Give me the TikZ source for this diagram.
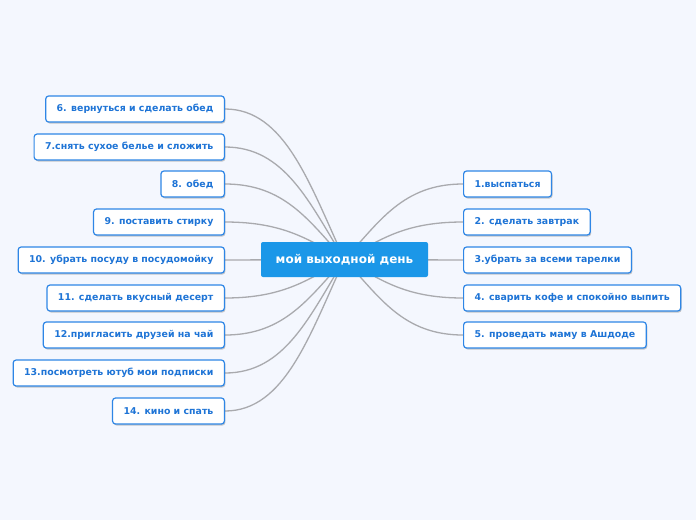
\documentclass[tikz,border=0pt]{standalone}
\usepackage{fontspec}
\setmainfont{DejaVu Sans}
\usetikzlibrary{calc,shadows,backgrounds}

\definecolor{paper}{HTML}{F4F7FE}
\definecolor{leafblue}{HTML}{1E74D6}
\definecolor{edgeblue}{HTML}{2E86E6}
\definecolor{rootblue}{HTML}{1B97E8}
\definecolor{linkgray}{HTML}{A9AAAE}

\tikzset{
    leaf/.style={draw=edgeblue, line width=1.2pt, fill=white, rounded corners=3pt,
        text=leafblue, font=\fontsize{9.4}{10}\selectfont\bfseries,
        minimum height=26pt, inner xsep=11pt, inner ysep=2pt,
        drop shadow={shadow xshift=1pt, shadow yshift=-1.5pt, opacity=0.35, fill=black!60}},
    root/.style={fill=rootblue, rounded corners=2pt, text=white,
        font=\fontsize{12}{14}\selectfont\bfseries,
        minimum height=35pt, minimum width=167pt, inner xsep=14pt},
    link/.style={draw=linkgray, line width=1.3pt}
}

\begin{document}
\begin{tikzpicture}[x=1pt, y=-1pt]
    \useasboundingbox (0,0) rectangle (696,520);

    \node[root] (root) at (344.5,259.5) {мой выходной день};

    % right branch
    \foreach \n/\y/\t in {1/184/1.выспаться, 2/222/2. сделать завтрак,
        3/260/3.убрать за всеми тарелки, 4/298/4. сварить кофе и спокойно выпить,
        5/335/5. проведать маму в Ашдоде}
    {
        \node[leaf, anchor=west] (r\n) at (463,\y) {\t};
    }

    % left branch
    \foreach \n/\y/\t in {6/109/6. вернуться и сделать обед, 7/147/7.снять сухое белье и сложить,
        8/184/8. обед, 9/222/9. поставить стирку, 10/260/10. убрать посуду в посудомойку,
        11/298/11. сделать вкусный десерт, 12/335/12.пригласить друзей на чай,
        13/373/13.посмотреть ютуб мои подписки, 14/411/14. кино и спать}
    {
        \node[leaf, anchor=east] (l\n) at (225,\y) {\t};
    }

    \begin{pgfonlayer}{background}
        \fill[paper] (0,0) rectangle (696,520);
        \foreach \n/\y in {1/184, 2/222, 4/298, 5/335}
            \draw[link] (root.center) .. controls ($(root.center)+(35,{-0.5*(260-\y)})$)
                and ($(r\n.west)+(-60,0)$) .. (r\n.west);
        \foreach \n/\y in {6/109, 7/147, 8/184, 9/222, 11/298, 12/335, 13/373, 14/411}
            \draw[link] (root.center) .. controls ($(root.center)+(-35,{-0.5*(260-\y)})$)
                and ($(l\n.east)+(60,0)$) .. (l\n.east);
        \draw[link] (root.center) -- (r3.west);
        \draw[link] (root.center) -- (l10.east);
    \end{pgfonlayer}
\end{tikzpicture}
\end{document}
